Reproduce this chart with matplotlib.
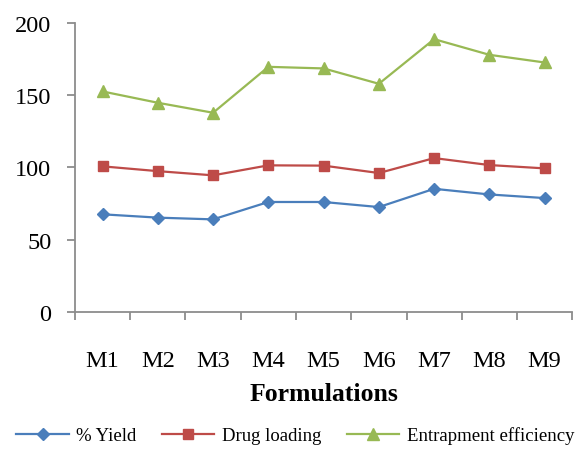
import matplotlib.pyplot as plt
from matplotlib.ticker import FixedLocator

# Formulation batches and measured responses
formulations = ["M1", "M2", "M3", "M4", "M5", "M6", "M7", "M8", "M9"]
yield_pct = [67.6, 65.3, 64.1, 76.1, 76.1, 72.6, 85.2, 81.3, 78.8]
drug_loading = [100.7, 97.4, 94.5, 101.4, 101.2, 96.1, 106.4, 101.6, 99.3]
entrapment = [152.4, 144.6, 137.7, 169.4, 168.3, 157.7, 188.5, 177.7, 172.4]

plt.rcParams['font.family'] = ['Liberation Serif', 'DejaVu Serif']

fig = plt.figure(figsize=(5.81, 4.52), dpi=100)
ax = fig.add_axes([0.129, 0.307, 0.856, 0.641])

x = range(len(formulations))
ax.plot(x, yield_pct, color='#4A7EBB', marker='D', markersize=6, lw=1.6, label='% Yield')
ax.plot(x, drug_loading, color='#BE4B48', marker='s', markersize=7, lw=1.6, label='Drug loading')
ax.plot(x, entrapment, color='#98B954', marker='^', markersize=8, lw=1.6, label='Entrapment efficiency')

ax.set_xlim(-0.5, len(formulations) - 0.5)
ax.set_ylim(0, 200)
ax.set_yticks([0, 50, 100, 150, 200])
ax.set_xticks(list(x))
ax.set_xticklabels(formulations)
ax.xaxis.set_minor_locator(FixedLocator([i - 0.5 for i in range(len(formulations) + 1)]))

for side in ['top', 'right']:
    ax.spines[side].set_visible(False)
for side in ['left', 'bottom']:
    ax.spines[side].set_color('#8c8c8c')
    ax.spines[side].set_linewidth(1.3)

ax.tick_params(axis='y', length=6, width=1.3, color='#8c8c8c', labelsize=17.5, pad=11)
ax.tick_params(axis='x', which='major', length=0, labelsize=17.5, pad=27)
ax.tick_params(axis='x', which='minor', length=6, width=1.3, color='#8c8c8c')

ax.set_xlabel('Formulations', fontsize=18.5, fontweight='bold', labelpad=8)

fig.legend(loc='lower center', bbox_to_anchor=(0.508, -0.022), ncol=3, frameon=False,
           fontsize=13.5, handlelength=2.8, columnspacing=1.35, handletextpad=0.4)

fig.savefig('out.png', dpi=100)
